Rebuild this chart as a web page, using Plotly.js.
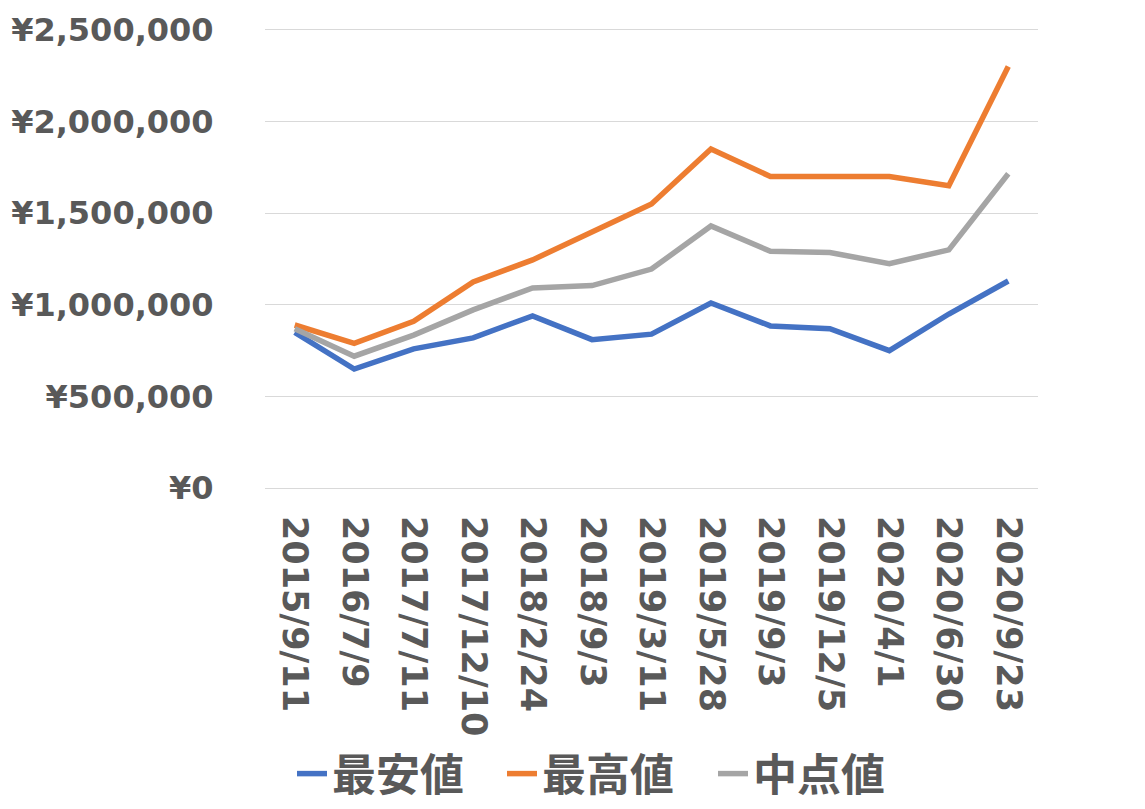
<!DOCTYPE html>
<html><head><meta charset="utf-8">
<script src="https://cdn.plot.ly/plotly-3.0.1.min.js"></script>
<style>html,body{margin:0;padding:0;background:#fff}#c{width:1145px;height:809px}</style>
</head><body><div id="c"></div>
<script>
const dates = ['2015/9/11','2016/7/9','2017/7/11','2017/12/10','2018/2/24','2018/9/3','2019/3/11','2019/5/28','2019/9/3','2019/12/5','2020/4/1','2020/6/30','2020/9/23'];
const minValues = [850000, 650000, 760000, 820000, 940000, 810000, 840000, 1010000, 885000, 870000, 750000, 950000, 1130000];
const maxValues = [890000, 790000, 910000, 1125000, 1245000, 1400000, 1550000, 1850000, 1700000, 1700000, 1700000, 1650000, 2300000];
const midValues = [870000, 720000, 835000, 972500, 1092500, 1105000, 1195000, 1430000, 1292500, 1285000, 1225000, 1300000, 1715000];
const seriesNames = ['最安値','最高値','中点値'];
const colors = ['#4472C4','#ED7D31','#A5A5A5'];
const yTicks = [0, 500000, 1000000, 1500000, 2000000, 2500000];
const yTickLabels = ['¥0','¥500,000','¥1,000,000','¥1,500,000','¥2,000,000','¥2,500,000'];

const FONT = 'DejaVu Sans, "Noto Sans CJK JP", sans-serif';
const legendIds = ['legend','legend2','legend3'];
const legendX = [292, 502, 713];
const traces = [minValues, maxValues, midValues].map((v,i)=>({
  type:'scatter', mode:'lines', x:dates, y:v, name:seriesNames[i], legend:legendIds[i],
  line:{color:colors[i], width:5.5, shape:'linear'}
}));
const legendStyle = x => ({orientation:'h', xref:'container', yref:'container', x:x/1145, xanchor:'left',
  y:35/809, yanchor:'middle', bgcolor:'rgba(0,0,0,0)',
  font:{family:'"Noto Sans CJK JP", sans-serif', size:44, color:'#595959', weight:'bold'}});
const layout = {
  width:1145, height:809,
  margin:{l:265, r:107, t:28, b:319},
  paper_bgcolor:'#fff', plot_bgcolor:'#fff',
  font:{family:FONT, color:'#595959', size:32, weight:'bold'},
  xaxis:{type:'category', range:[-0.5,12.5], tickangle:90, showgrid:false, zeroline:false,
    showline:false, ticks:'outside', ticklen:18, tickcolor:'rgba(0,0,0,0)', automargin:false,
    tickfont:{family:FONT, size:35, color:'#595959', weight:'bold'}},
  yaxis:{range:[-10000,2510000], tickmode:'array', tickvals:yTicks, ticktext:yTickLabels,
    showgrid:true, gridcolor:'#D9D9D9', gridwidth:1, zeroline:false, showline:false, automargin:false,
    ticks:'outside', ticklen:44, tickcolor:'rgba(0,0,0,0)',
    tickfont:{family:FONT, size:32, color:'#595959', weight:'bold'}},
  showlegend:true,
  legend:legendStyle(legendX[0]),
  legend2:legendStyle(legendX[1]),
  legend3:legendStyle(legendX[2])
};
Plotly.newPlot('c', traces, layout, {displayModeBar:false, staticPlot:true});
</script></body></html>
